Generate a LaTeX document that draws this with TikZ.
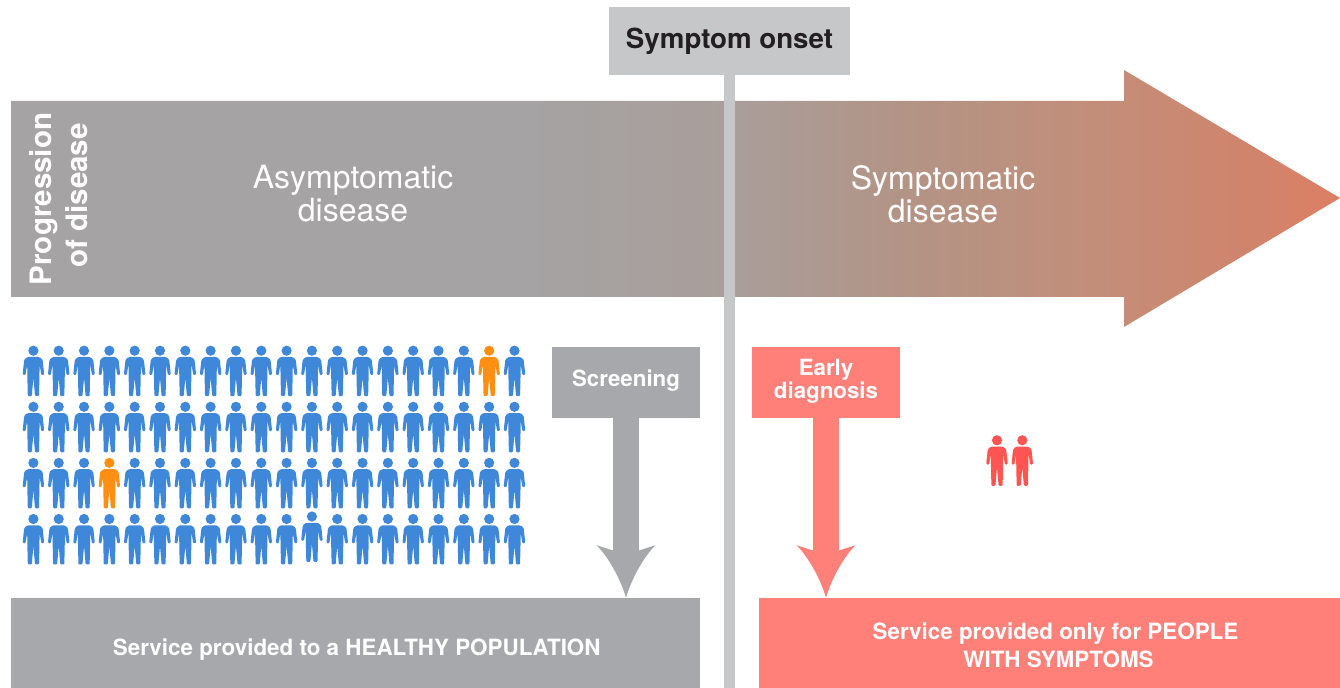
\documentclass[tikz,border=0pt]{standalone}
\usepackage{fontspec}
\setmainfont{TeX Gyre Heros}
\usepackage{tikz}
\definecolor{barstart}{HTML}{A5A3A4}
\definecolor{barfirst}{HTML}{A99E9A}
\definecolor{barsecond}{HTML}{B29486}
\definecolor{barthird}{HTML}{C38E79}
\definecolor{barfourth}{HTML}{D0846C}
\definecolor{barend}{HTML}{DC7F64}
\definecolor{onsetgrey}{HTML}{C6C7C9}
\definecolor{flowgrey}{HTML}{A7A8AB}
\definecolor{flowred}{HTML}{FF7F79}
\definecolor{personblue}{HTML}{3F87D9}
\definecolor{personorange}{HTML}{FF8F12}
\definecolor{personred}{HTML}{FF5552}
\definecolor{inkdark}{HTML}{231F20}
\pgfdeclarehorizontalshading{barfade}{100bp}{color(0bp)=(barstart); color(44bp)=(barstart); color(52.4bp)=(barfirst); color(58.4bp)=(barsecond); color(66bp)=(barthird); color(71.6bp)=(barfourth); color(75bp)=(barend); color(100bp)=(barend)}
\newcommand{\sunk}[2]{\raisebox{-#1pt}[0pt][0pt]{#2}}
\tikzset{
	person/.pic={
		\fill[pic actions] (0,0) circle (5.1);
		\fill[pic actions, rounded corners=0.6pt] (-6,6.3) -- (6,6.3) -- (9.2,9) -- (10.8,24) -- (8,24.5) -- (6.2,14) -- (6,28) -- (5.6,45.5) -- (1.6,45.5) -- (0,27) -- (-1.6,45.5) -- (-5.6,45.5) -- (-6,28) -- (-6.2,14) -- (-8,24.5) -- (-10.8,24) -- (-9.2,9) -- cycle;
	},
	barbhead/.pic={
		\fill[pic actions] (0,0) .. controls (-6,-20) and (-18,-41) .. (-29.5,-52.5) -- (-12.5,-47) -- (12.5,-47) -- (29.5,-52.5) .. controls (18,-41) and (6,-20) .. (0,0) -- cycle;
	},
	flowbox/.style={minimum width=2.96cm, minimum height=1.42cm, inner sep=0pt, align=center, text=white, font=\fontsize{12.7}{13.1}\selectfont\bfseries},
	servicebox/.style={minimum height=1.8cm, inner sep=0pt, align=center, text=white, font=\fontsize{12.75}{16.2}\selectfont\bfseries},
	stagelabel/.style={inner sep=0pt, align=center, text=white, font=\fontsize{18.2}{18.8}\selectfont},
	flowline/.style={line width=0.51cm, shorten >=0.94cm},
}
\begin{document}
\begin{tikzpicture}[x=0.02cm, y=-0.02cm]
	\useasboundingbox (0,0) rectangle (1340,688);
	\shade[shading=barfade] (11,101) -- (1124,101) -- (1124,70) -- (1340,198) -- (1124,327) -- (1124,297) -- (11,297) -- cycle;
	\node[fill=onsetgrey, text=inkdark, minimum width=4.82cm, minimum height=1.36cm, inner sep=0pt, font=\fontsize{15.75}{16}\selectfont\bfseries] (onset) at (729.5,41) {Symptom onset};
	\coordinate (onsetfoot) at (729.5,688);
	\draw[onsetgrey, line width=0.22cm] (onset.south) -- (onsetfoot);
	\node[stagelabel] (asymptomatic) at (353,194) {Asymptomatic\\disease};
	\node[stagelabel] (symptomatic) at (943,194) {Symptomatic\\disease};
	\node[rotate=90, inner sep=0pt, align=center, text=white, font=\fontsize{16.8}{20.5}\selectfont\bfseries] (progression) at (59,199) {Progression\\\hspace*{0.14cm}of disease};
	\foreach \row in {0,...,3}{
		\foreach \col in {0,...,19}{
			\pgfmathtruncatemacro{\who}{100*\row+\col}
			\def\tint{personblue}
			\def\lift{0}
			\ifnum\who=18 \def\tint{personorange}\fi
			\ifnum\who=203 \def\tint{personorange}\fi
			\ifnum\who=311 \def\lift{2.5}\fi
			\pic[fill=\tint] at ({33.4+25.32*\col},{350.7+56.1*\row-\lift}) {person};
		}
	}
	\pic[fill=personred] at (997,440.3) {person};
	\pic[fill=personred] at (1022.3,440.3) {person};
	\node[flowbox, fill=flowgrey] (screening) at (626,382.5) {\sunk{2.2}{Screening}};
	\node[flowbox, fill=flowred] (early) at (826,382.5) {\sunk{2.8}{Early}\\\sunk{2.8}{diagnosis}};
	\node[servicebox, fill=flowgrey, minimum width=13.78cm] (healthy) at (355.5,643) {\sunk{7.0}{\hspace*{0.05cm}Service provided to a HEALTHY POPULATION}};
	\node[servicebox, fill=flowred, minimum width=11.62cm] (symptoms) at (1049.5,643) {\sunk{5.9}{\hspace*{0.24cm}Service provided only for PEOPLE}\\\sunk{5.9}{\hspace*{0.36cm}WITH SYMPTOMS}};
	\coordinate (screeningtip) at (screening.south |- healthy.north);
	\coordinate (earlytip) at (early.south |- symptoms.north);
	\draw[flowgrey, flowline] (screening.south) -- (screeningtip);
	\draw[flowred, flowline] (early.south) -- (earlytip);
	\pic[fill=flowgrey] at (screeningtip) {barbhead};
	\pic[fill=flowred] at (earlytip) {barbhead};
\end{tikzpicture}
\end{document}
